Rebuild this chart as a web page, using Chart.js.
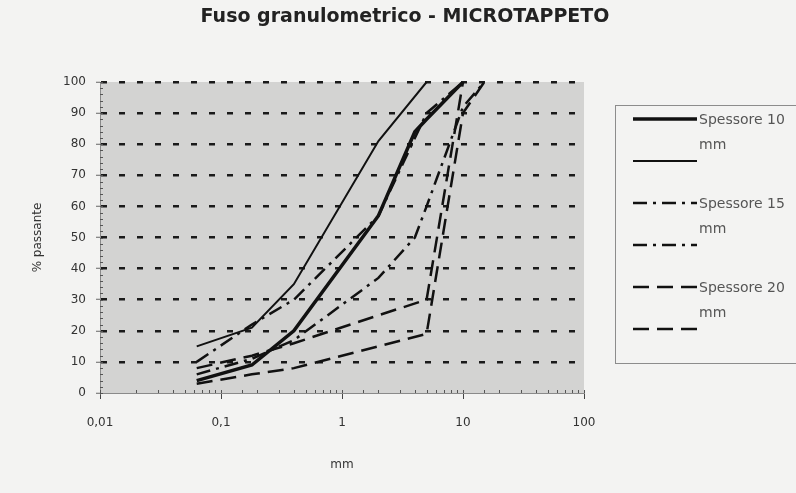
<!DOCTYPE html>
<html>
<head>
<meta charset="utf-8">
<script src="https://cdn.jsdelivr.net/npm/chart.js@4/dist/chart.umd.min.js"></script>
<style>
  html, body { margin: 0; padding: 0; background: #f3f3f2; }
  #wrap { width: 796px; height: 493px; position: relative; }
</style>
</head>
<body>
<div id="wrap"><canvas id="chart"></canvas></div>
<script>
/**
 * DATA (sieve size in mm, % passing)
 */
const sizes10Lo = [0.063, 0.18, 0.4, 2, 4, 5, 10];
const pass10Lo  = [4, 9, 20, 57, 84, 88, 100];
const sizes10Up = [0.063, 0.18, 0.4, 2, 5];
const pass10Up  = [15, 21, 35, 81, 100];

const sizes15Up = [0.063, 0.18, 0.4, 2, 5, 10];
const pass15Up  = [10, 22, 30, 57, 90, 100];
const sizes15Lo = [0.063, 0.18, 0.4, 2, 4, 5, 10, 15];
const pass15Lo  = [6, 11, 17, 37, 50, 60, 92, 100];

const sizes20Up = [0.063, 0.18, 0.4, 2, 5, 10];
const pass20Up  = [8, 12, 16, 25, 30, 100];
const sizes20Lo = [0.063, 0.18, 0.4, 2, 5, 10, 15];
const pass20Lo  = [3, 6, 8, 15, 19, 90, 100];

const chartTitle = "Fuso granulometrico - MICROTAPPETO";
const seriesLabels = ["Spessore 10 mm", "Spessore 15 mm", "Spessore 20 mm"];
const xTickValues = [0.01, 0.1, 1, 10, 100];
const yTickStep = 10;

/**
 * AUX
 */
const toPoints = (xs, ys) => xs.map((x, i) => ({x: x, y: ys[i]}));

const makeSet = (label, xs, ys, dash, width) => ({
  label: label,
  data: toPoints(xs, ys),
  borderColor: "#111",
  borderWidth: width,
  borderDash: dash,
  showLine: true,
  pointRadius: 0,
  tension: 0,
  fill: false
});

const DASHDOT = [14, 6, 3, 6];
const DASHED = [16, 8];

const datasets = [
  makeSet(seriesLabels[0], sizes10Lo, pass10Lo, [], 3.5),
  makeSet("", sizes10Up, pass10Up, [], 2),
  makeSet(seriesLabels[1], sizes15Up, pass15Up, DASHDOT, 2.5),
  makeSet("", sizes15Lo, pass15Lo, DASHDOT, 2.5),
  makeSet(seriesLabels[2], sizes20Up, pass20Up, DASHED, 2.5),
  makeSet("", sizes20Lo, pass20Lo, DASHED, 2.5)
];

// grey plot area + title centred on the page
const plotBackground = {
  id: "plotBackground",
  beforeDraw(chart) {
    const {ctx, chartArea: a} = chart;
    ctx.save();
    ctx.fillStyle = "#d3d3d2";
    ctx.fillRect(a.left, a.top, a.right - a.left, a.bottom - a.top);
    ctx.fillStyle = "#222";
    ctx.font = 'bold 19px "DejaVu Sans"';
    ctx.textAlign = "center";
    ctx.textBaseline = "middle";
    ctx.fillText(chartTitle, 405, 17);
    ctx.restore();
  }
};

// small inward ticks on both axes
const minorTicks = {
  id: "minorTicks",
  afterDraw(chart) {
    const {ctx, chartArea: a, scales} = chart;
    ctx.save();
    ctx.strokeStyle = "#555";
    ctx.lineWidth = 1;
    ctx.beginPath();
    scales.x.ticks.forEach(t => {
      const px = Math.round(scales.x.getPixelForValue(t.value)) + 0.5;
      ctx.moveTo(px, a.bottom);
      ctx.lineTo(px, a.bottom - 3);
    });
    for (let v = 0; v <= 100; v += 2) {
      const py = Math.round(scales.y.getPixelForValue(v)) + 0.5;
      ctx.moveTo(a.left, py);
      ctx.lineTo(a.left + 3, py);
    }
    ctx.stroke();
    ctx.restore();
  }
};

// boxed legend, two samples per label
const boxLegend = {
  id: "boxLegend",
  afterDraw(chart) {
    const ctx = chart.ctx;
    ctx.save();
    ctx.strokeStyle = "#8c8c8c";
    ctx.lineWidth = 1;
    ctx.strokeRect(615.5, 105.5, 200, 258);
    seriesLabels.forEach((name, g) => {
      const y0 = 119 + 84 * g;
      [0, 1].forEach(k => {
        const ds = chart.data.datasets[2 * g + k];
        const y = y0 + 42 * k;
        ctx.beginPath();
        ctx.setLineDash(ds.borderDash);
        ctx.lineWidth = ds.borderWidth;
        ctx.strokeStyle = ds.borderColor;
        ctx.moveTo(633, y);
        ctx.lineTo(697, y);
        ctx.stroke();
      });
      ctx.setLineDash([]);
      const cut = name.lastIndexOf(" ");
      ctx.fillStyle = "#555";
      ctx.font = '14px "DejaVu Sans"';
      ctx.textBaseline = "middle";
      ctx.fillText(name.slice(0, cut), 699, y0 + 1);
      ctx.fillText(name.slice(cut + 1), 699, y0 + 26);
    });
    ctx.restore();
  }
};

const setChart = (id) => {
  return new Chart(document.getElementById(id), {
    type: "scatter",
    data: { datasets: datasets },
    options: {
      responsive: true,
      maintainAspectRatio: false,
      animation: false,
      layout: { padding: { left: 0, right: 212, top: 82, bottom: 0 } },
      plugins: {
        legend: { display: false },
        tooltip: { enabled: false },
        title: { display: false }
      },
      scales: {
        x: {
          type: "logarithmic",
          min: 0.01,
          max: 100,
          afterFit: (s) => { s.height = 100; },
          grid: {
            drawOnChartArea: false,
            drawTicks: true,
            tickLength: 6,
            tickColor: (c) => (c.tick && xTickValues.includes(c.tick.value)) ? "#444" : "rgba(0,0,0,0)"
          },
          border: { display: true, color: "#8a8a8a", width: 1 },
          ticks: {
            autoSkip: false,
            maxRotation: 0,
            padding: 17,
            color: "#333",
            font: { family: "DejaVu Sans", size: 12 },
            callback: (v) => xTickValues.includes(v) ? String(v).replace(".", ",") : ""
          },
          title: {
            display: true,
            text: "mm",
            color: "#333",
            font: { family: "DejaVu Sans", size: 12 },
            padding: { top: 0, bottom: 21 }
          }
        },
        y: {
          min: 0,
          max: 100,
          afterFit: (s) => { s.width = 100; },
          grid: {
            color: (c) => (c.tick && c.tick.value === 0) ? "rgba(0,0,0,0)" : "#1a1a1a",
            lineWidth: 2.5,
            tickLength: 4,
            tickColor: "#666",
            tickWidth: 1
          },
          border: { display: true, color: "#8a8a8a", width: 1, dash: [6, 12] },
          ticks: {
            stepSize: yTickStep,
            padding: 10,
            color: "#333",
            font: { family: "DejaVu Sans", size: 12 }
          },
          title: {
            display: true,
            text: "% passante",
            color: "#333",
            font: { family: "DejaVu Sans", size: 12 },
            padding: { top: 31, bottom: 0 }
          }
        }
      }
    },
    plugins: [plotBackground, minorTicks, boxLegend]
  });
};

document.addEventListener("DOMContentLoaded", () => {
  setChart("chart");
});
</script>
</body>
</html>
